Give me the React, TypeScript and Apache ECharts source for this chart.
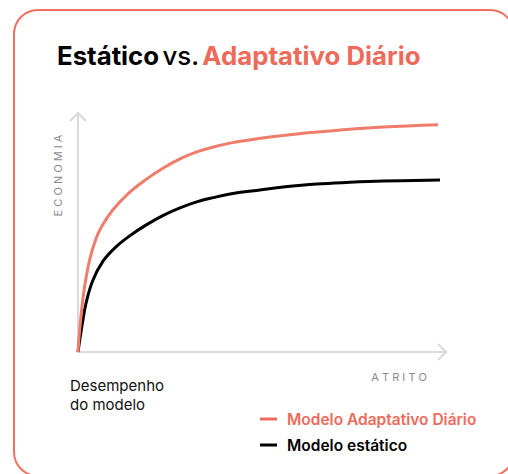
import React, { useEffect, useRef } from "react";
import * as echarts from "echarts";

const atritoAdaptativo = [0, 0.22, 0.71, 1.3, 2.09, 3.15, 4.76, 6.39, 9.43, 13.72, 18.21, 23.18, 27.72, 32.26, 36.77, 41.3, 49.0, 55.71, 64.86, 73.91, 82.88, 97.83];
const adaptativo = [0, 5.0, 13.4, 21.8, 30.1, 38.5, 46.9, 52.4, 59.4, 66.4, 71.9, 77.0, 80.8, 83.7, 85.8, 87.4, 89.3, 90.6, 92.0, 93.2, 94.1, 95.1];
const atritoEstatico = [0, 0.27, 0.68, 1.25, 2.17, 3.99, 6.79, 10.33, 14.13, 18.67, 23.18, 27.72, 32.26, 36.77, 41.3, 49.0, 55.71, 64.86, 73.91, 82.88, 98.37];
const estatico = [0, 2.9, 7.1, 12.6, 20.3, 29.8, 38.0, 44.0, 48.7, 53.3, 57.2, 60.3, 62.8, 64.6, 66.1, 67.7, 69.0, 70.3, 71.0, 71.5, 72.0];
const seriesNames = ["Modelo Adaptativo Diário", "Modelo estático"];
const titleParts = ["Estático", "vs.", "Adaptativo Diário"];
const axisNames = ["ECONOMIA", "ATRITO"];
const noteLines = ["Desempenho", "do modelo"];

const SALMON = "#EE6A5A";
const CURVE_SALMON = "#F07C6B";
const AXIS = "#D9D9D9";
const FONT = "Inter, 'Noto Sans', sans-serif";

const G = { left: 78, top: 113, right: 446, bottom: 352 };

export default function App() {
  const ref = useRef<HTMLDivElement>(null);
  useEffect(() => {
    document.body.style.margin = "0";
    const chart = echarts.init(ref.current!, undefined, { renderer: "svg" });
    const spaced = (s: string) => s.split("").join(" ");
    chart.setOption({
      animation: false,
      backgroundColor: "#ffffff",
      grid: {
        left: G.left,
        top: G.top,
        width: G.right - G.left,
        height: G.bottom - G.top,
      },
      xAxis: {
        type: "value",
        min: 0,
        max: 100,
        axisLine: { show: true, onZero: false, lineStyle: { color: AXIS, width: 2 } },
        axisTick: { show: false },
        axisLabel: { show: false },
        splitLine: { show: false },
      },
      yAxis: {
        type: "value",
        min: 0,
        max: 100,
        axisLine: { show: true, lineStyle: { color: AXIS, width: 2 } },
        axisTick: { show: false },
        axisLabel: { show: false },
        splitLine: { show: false },
      },
      legend: {
        orient: "vertical",
        left: 260,
        top: 411,
        padding: 0,
        itemWidth: 17,
        itemHeight: 3,
        itemGap: 10,
        icon: "rect",
        selectedMode: false,
        textStyle: {
          fontFamily: FONT,
          fontSize: 15.5,
          fontWeight: 600,
          lineHeight: 16,
          padding: [0, 0, 0, 5],
        },
        data: [
          { name: seriesNames[0], itemStyle: { color: SALMON }, textStyle: { color: SALMON } },
          { name: seriesNames[1], itemStyle: { color: "#000" }, textStyle: { color: "#000" } },
        ],
      },
      series: [
        {
          name: seriesNames[1],
          type: "line",
          data: atritoEstatico.map((x, i) => [x, estatico[i]]),
          smooth: 0.4,
          showSymbol: false,
          lineStyle: { color: "#000", width: 3 },
          itemStyle: { color: "#000" },
        },
        {
          name: seriesNames[0],
          type: "line",
          data: atritoAdaptativo.map((x, i) => [x, adaptativo[i]]),
          smooth: 0.4,
          showSymbol: false,
          lineStyle: { color: CURVE_SALMON, width: 3 },
          itemStyle: { color: CURVE_SALMON },
        },
      ],
      graphic: [
        {
          type: "rect",
          shape: { x: 14, y: 10, width: 500, height: 466, r: 24 },
          style: { fill: "none", stroke: "#F07060", lineWidth: 2 },
          silent: true,
        },
        {
          type: "text",
          x: 57,
          y: 55.5,
          style: {
            text: `{a|${titleParts[0]}} {b|${titleParts[1]}} {c|${titleParts[2]}}`,
            verticalAlign: "middle",
            rich: {
              a: { fontFamily: FONT, fontSize: 25.8, fontWeight: 700, fill: "#000" },
              b: { fontFamily: FONT, fontSize: 25.8, fontWeight: 500, fill: "#000" },
              c: { fontFamily: FONT, fontSize: 25.8, fontWeight: 700, fill: SALMON },
            },
          },
        },
        {
          type: "polyline",
          shape: { points: [[G.left - 8, G.top + 8], [G.left, G.top], [G.left + 8, G.top + 8]] },
          style: { stroke: AXIS, lineWidth: 2, fill: "none" },
        },
        {
          type: "polyline",
          shape: { points: [[G.right - 8, G.bottom - 8], [G.right, G.bottom], [G.right - 8, G.bottom + 8]] },
          style: { stroke: AXIS, lineWidth: 2, fill: "none" },
        },
        {
          type: "text",
          x: 57.5,
          y: 175.5,
          rotation: Math.PI / 2,
          style: {
            text: spaced(axisNames[0]),
            fontFamily: FONT,
            fontSize: 11,
            fill: "#8a8a8a",
            align: "center",
            verticalAlign: "middle",
          },
        },
        {
          type: "text",
          x: 427,
          y: 376.5,
          style: {
            text: spaced(axisNames[1]),
            fontFamily: FONT,
            fontSize: 11,
            fill: "#8a8a8a",
            align: "right",
            verticalAlign: "middle",
          },
        },
        {
          type: "text",
          x: 70,
          y: 376,
          style: {
            text: noteLines.join("\n"),
            fontFamily: FONT,
            fontSize: 15,
            lineHeight: 19,
            fill: "#111",
            verticalAlign: "top",
          },
        },
      ],
    });
    return () => chart.dispose();
  }, []);
  return <div ref={ref} style={{ width: 508, height: 474 }} />;
}
